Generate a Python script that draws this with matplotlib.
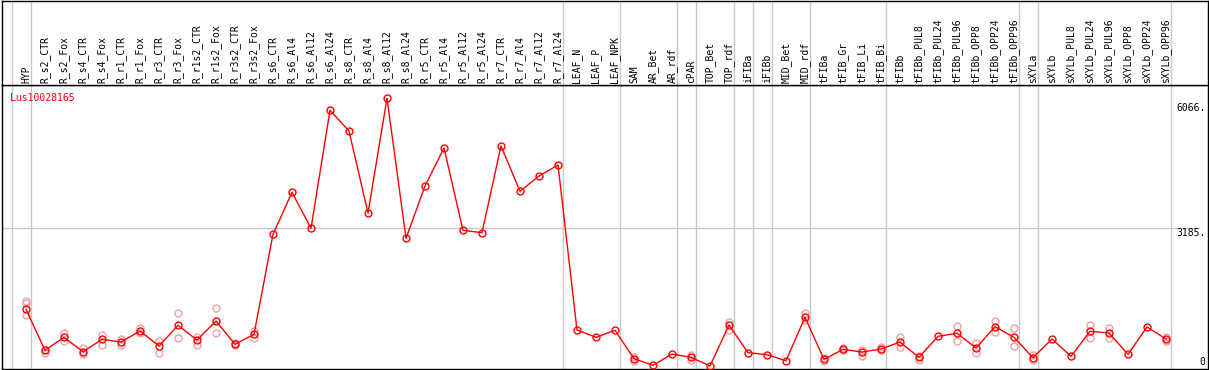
import matplotlib
matplotlib.use("Agg")
import matplotlib.pyplot as plt
import matplotlib.transforms as mtransforms

categories = ["HYP", "R_s2_CTR", "R_s2_Fox", "R_s4_CTR", "R_s4_Fox", "R_r1_CTR", "R_r1_Fox",
              "R_r3_CTR", "R_r3_Fox", "R_r1s2_CTR", "R_r1s2_Fox", "R_r3s2_CTR", "R_r3s2_Fox",
              "R_s6_CTR", "R_s6_Al4", "R_s6_Al12", "R_s6_Al24", "R_s8_CTR", "R_s8_Al4", "R_s8_Al12",
              "R_s8_Al24", "R_r5_CTR", "R_r5_Al4", "R_r5_Al12", "R_r5_Al24", "R_r7_CTR", "R_r7_Al4",
              "R_r7_Al12", "R_r7_Al24", "LEAF_N", "LEAF_P", "LEAF_NPK", "SAM", "AR_Bet", "AR_rdf",
              "cPAR", "TOP_Bet", "TOP_rdf", "iFIBa", "iFIBb", "MID_Bet", "MID_rdf", "tFIBa",
              "tFIB_Gr", "tFIB_Li", "tFIB_Bi", "tFIBb", "tFIBb_PUL8", "tFIBb_PUL24", "tFIBb_PUL96",
              "tFIBb_OPP8", "tFIBb_OPP24", "tFIBb_OPP96", "sXYLa", "sXYLb", "sXYLb_PUL8",
              "sXYLb_PUL24", "sXYLb_PUL96", "sXYLb_OPP8", "sXYLb_OPP24", "sXYLb_OPP96"]

means = [1325, 383, 682, 352, 635, 574, 827, 482, 957, 620, 1056, 521, 751,
         3047, 4011, 3185, 5894, 5419, 3536, 6170, 2955, 4156, 5029, 3139, 3084, 5075, 4034, 4386, 4638,
         850, 682, 843,
         191, 39, 298, 222, 23, 964, 329, 283, 145, 1141,
         176, 406, 344, 413, 574,
         222, 705, 774, 436, 926, 682,
         214, 643, 245, 820, 781, 291, 919, 643]

replicates = [[1523, 1476, 1187], [329, 400], [774, 597], [444, 298], [735, 505], [643, 505],
              [903, 774], [597, 329], [1233, 659], [697, 505], [1348, 774], [544, 500], [834, 659],
              [], [], [], [], [], [], [], [], [], [], [], [], [], [], [], [],
              [], [], [],
              [223, 138], [], [], [268, 161], [], [1040, 850], [], [], [], [1233, 1079],
              [200, 140], [430, 380], [253, 380], [467, 390], [682, 452],
              [161, 250], [], [949, 597], [544, 314], [1063, 796], [888, 489],
              [276, 170], [], [], [957, 659], [888, 659], [], [], [680, 600]]

group_ends = [-1, 0, 28, 31, 34, 35, 37, 38, 39, 41, 45, 52, 53, 60]
y_labels = [6066, 3185, 0]
gene = "Lus10028165"

W, H = 1209, 370
fig = plt.figure(figsize=(W / 100, H / 100), dpi=100)
font = "DejaVu Sans Mono"
grid_c = "#c8c8c8"

xlim = ((1.5 - 26) / 19, (1207.5 - 26) / 19)
ylim = (-34, 6475)

ax = fig.add_axes([1.5 / W, 1.5 / H, 1206 / W, (368.5 - 85) / H])
hx = fig.add_axes([1.5 / W, (H - 85) / H, 1206 / W, 84.5 / H])

for a in (ax, hx):
    a.set_xlim(*xlim)
    a.set_xticks([])
    a.set_yticks([])
    for s in a.spines.values():
        s.set_color("black")
        s.set_linewidth(1.0)
    for g in group_ends:
        a.axvline(g + 0.25, color=grid_c, lw=1.0, zorder=0)

ax.set_ylim(*ylim)
ax.axhline(y_labels[1], color=grid_c, lw=1.0, zorder=0, xmax=0.993)

x = list(range(len(categories)))
for i, reps in enumerate(replicates):
    if reps:
        ax.plot([i] * len(reps), reps, linestyle="none", marker="o", markersize=5,
                markerfacecolor="none", markeredgecolor="#f0a0a0", markeredgewidth=1.0, zorder=2)
ax.plot(x, means, color="red", lw=1.0, marker="o", markersize=5, markerfacecolor="none",
        markeredgecolor="red", markeredgewidth=1.0, zorder=3)

ax.text(8.5 / 1206, 1 - 8 / 283.5, gene, transform=ax.transAxes, color="red",
        fontsize=7, family=font, ha="left", va="top")

xr = xlim[1] - 0.1
for v in y_labels:
    ax.text(xr, v, f"{v}." if v else "0", color="black", fontsize=7, family=font,
            ha="right", va="top" if v else "bottom")

trans = mtransforms.blended_transform_factory(hx.transData, hx.transAxes)
for i, c in enumerate(categories):
    hx.text(i, 2.0 / 84.5, c, transform=trans, rotation=90, ha="center", va="bottom",
            fontsize=7, family=font, color="black")

fig.savefig("out.png", dpi=100)
